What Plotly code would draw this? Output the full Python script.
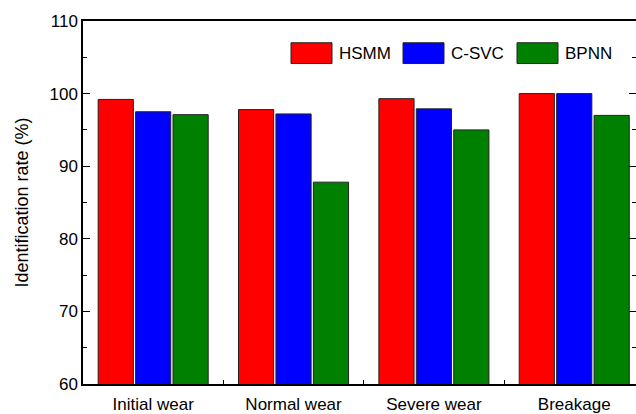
import plotly.graph_objects as go

categories = ["Initial wear", "Normal wear", "Severe wear", "Breakage"]
series_names = ["HSMM", "C-SVC", "BPNN"]
hsmm = [99.2, 97.8, 99.3, 100.0]
csvc = [97.5, 97.2, 97.9, 100.0]
bpnn = [97.1, 87.8, 95.0, 97.0]
colors = ["#ff0000", "#0000ff", "#008000"]
y_ticks = [60, 70, 80, 90, 100, 110]

FONT = "Liberation Sans, Arial, sans-serif"
FS = 17

fig = go.Figure()
for name, vals, col in zip(series_names, [hsmm, csvc, bpnn], colors):
    fig.add_trace(go.Bar(
        x=categories, y=vals, name=name,
        marker=dict(color=col, line=dict(color="#222222", width=1)),
        showlegend=False,
    ))
# empty helper trace so the right-hand tick axis is drawn
fig.add_trace(go.Scatter(x=[], y=[], yaxis="y2", showlegend=False, hoverinfo="skip"))

# custom legend with large swatches (Origin style)
PW, PH = 553, 367
leg_px = [291, 403, 517]
for name, col, px in zip(series_names, colors, leg_px):
    x0 = (px - 83) / PW
    fig.add_shape(type="rect", xref="paper", yref="paper",
                  x0=x0, x1=x0 + 41 / PW, y0=1 - 43 / PH, y1=1 - 22 / PH,
                  fillcolor=col, line=dict(color="#222222", width=1))
    fig.add_annotation(xref="paper", yref="paper", x=x0 + 46 / PW, y=1 - 32.5 / PH,
                       text=name, showarrow=False, xanchor="left", yanchor="middle",
                       font=dict(family=FONT, size=FS, color="black"))

fig.update_layout(
    width=636, height=414,
    margin=dict(l=83, r=0, t=21, b=26),
    paper_bgcolor="white", plot_bgcolor="white",
    barmode="group", bargap=0.2, bargroupgap=0.06,
    font=dict(family=FONT, size=FS, color="black"),
    yaxis2=dict(
        overlaying="y", side="right", anchor="x", range=[60, 110], tickvals=y_ticks,
        showline=False, ticks="inside", ticklen=7, tickcolor="black", showgrid=False,
        showticklabels=False, zeroline=False,
        minor=dict(ticks="inside", ticklen=4, dtick=5, tick0=60, tickcolor="black", showgrid=False),
    ),
)
fig.update_xaxes(
    type="category", range=[-0.5, 3.44],
    showline=True, linecolor="black", linewidth=1.5, mirror=True,
    ticks="inside", ticklen=4, tickcolor="black", tickson="boundaries",
    showgrid=False, ticklabelstandoff=4,
    tickfont=dict(family=FONT, size=FS, color="black"),
)
fig.update_layout(yaxis=dict(
    range=[60, 110], tickvals=y_ticks,
    showline=True, linecolor="black", linewidth=1.5, mirror=False,
    ticks="inside", ticklen=7, tickcolor="black", showgrid=False, zeroline=False,
    minor=dict(ticks="inside", ticklen=4, dtick=5, tick0=60, tickcolor="black", showgrid=False),
    tickfont=dict(family=FONT, size=FS, color="black"),
    title=dict(text="Identification rate (%)", font=dict(family=FONT, size=18, color="black"), standoff=16),
))

fig.write_html("out.html")
